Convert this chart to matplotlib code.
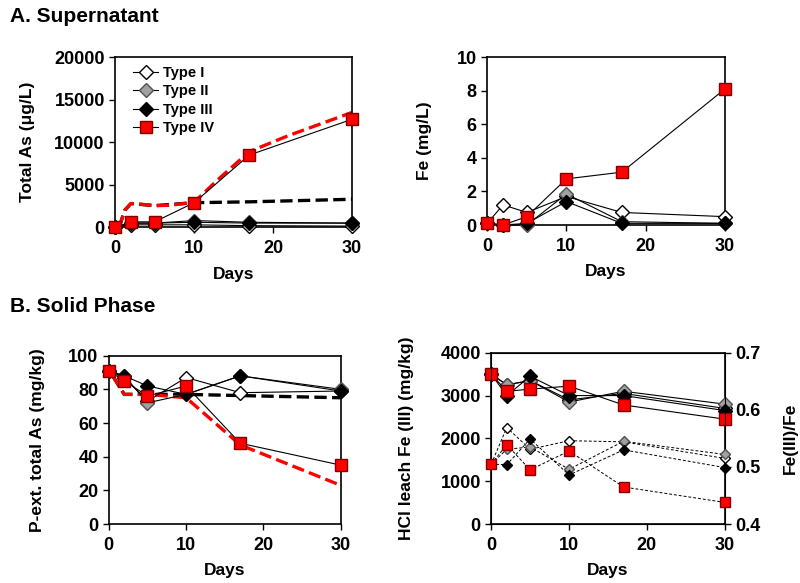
import matplotlib.pyplot as plt

plt.rcParams['font.family'] = ['Liberation Sans', 'DejaVu Sans']
plt.rcParams['font.weight'] = 'bold'
plt.rcParams['axes.labelweight'] = 'bold'

days = [0, 2, 5, 10, 17, 30]
types = ["Type I", "Type II", "Type III", "Type IV"]

# A. supernatant total As (ug/L)
as_sup = [
    [0, 300, 300, 300, 200, 150],
    [0, 500, 500, 800, 600, 500],
    [0, 500, 500, 600, 500, 500],
    [0, 650, 650, 2900, 8500, 12700],
]
as_fit_red_x = [0.5, 1.2, 2, 3, 5, 7, 10, 13, 17, 22, 30]
as_fit_red_y = [0, 2000, 2800, 2750, 2550, 2600, 2950, 5600, 8900, 10800, 13500]
as_fit_blk_x = [0.5, 1.2, 2, 5, 10, 17, 30]
as_fit_blk_y = [0, 2000, 2800, 2550, 2900, 3000, 3300]

# A. supernatant Fe (mg/L)
fe_sup = [
    [0.1, 1.2, 0.75, 1.7, 0.75, 0.5],
    [0.1, 0.0, 0.0, 1.85, 0.2, 0.1],
    [0.1, 0.0, 0.1, 1.4, 0.1, 0.1],
    [0.1, 0.0, 0.5, 2.75, 3.15, 8.1],
]

# B. solid phase P-extractable As (mg/kg)
as_sol = [
    [91, 87, 73, 87, 78, 79],
    [91, 88, 72, 77, 88, 80],
    [91, 88, 82, 77, 88, 79],
    [91, 85, 76, 82, 48, 35],
]
as_sol_red_x = [0.5, 2, 5, 10, 17, 30]
as_sol_red_y = [88, 77, 77, 75, 47, 23]
as_sol_blk_x = [0.5, 2, 10, 30]
as_sol_blk_y = [88, 77, 77, 75]

# B. HCl leach Fe(III) (mg/kg) and Fe(III)/Fe ratio
fe3 = [
    [3500, 3250, 3350, 2900, 3050, 2700],
    [3500, 3250, 3350, 2850, 3100, 2800],
    [3500, 3000, 3450, 3000, 3000, 2650],
    [3500, 3100, 3150, 3220, 2780, 2450],
]
fe_ratio = [
    [0.505, 0.569, 0.531, 0.546, 0.544, 0.515],
    [0.505, 0.531, 0.535, 0.496, 0.545, 0.522],
    [0.505, 0.504, 0.549, 0.486, 0.530, 0.499],
    [0.505, 0.539, 0.495, 0.528, 0.465, 0.438],
]

styles = [
    dict(marker="D", mfc="white", mec="black", ms=7.5),
    dict(marker="D", mfc="#a0a0a0", mec="#505050", ms=7.5),
    dict(marker="D", mfc="black", mec="black", ms=7.5),
    dict(marker="s", mfc="#ff0000", mec="#800000", ms=9),
]

TICK = 13
LAB = 12.5


def style_axis(ax, xlabel, ylabel, ypad):
    ax.set_xlim(0, 30)
    ax.set_xticks([0, 10, 20, 30])
    ax.tick_params(labelsize=TICK, width=1, length=4)
    ax.tick_params(axis="x", pad=5)
    for s in ax.spines.values():
        s.set_linewidth(1.2)
    ax.set_xlabel(xlabel, fontsize=LAB, labelpad=7)
    ax.set_ylabel(ylabel, fontsize=LAB, labelpad=ypad)


fig = plt.figure(figsize=(8, 5.83), dpi=100)

# A left
ax1 = fig.add_axes([0.144, 0.61, 0.296, 0.292])
for i in range(4):
    ax1.plot(days, as_sup[i], color="black", lw=0.8, label=types[i],
             zorder=3 + i, clip_on=False, **styles[i])
ax1.plot(as_fit_blk_x, as_fit_blk_y, "--", color="black", lw=2.4, zorder=2)
ax1.plot(as_fit_red_x, as_fit_red_y, "--", color="#ff0000", lw=2.4, zorder=2.5)
ax1.set_ylim(0, 20000)
ax1.set_yticks([0, 5000, 10000, 15000, 20000])
style_axis(ax1, "Days", "Total As (\u03bcg/L)", 14)
leg = ax1.legend(loc="upper left", frameon=False, fontsize=10.5, handlelength=1.7,
                 handletextpad=0.3, borderaxespad=0.2, labelspacing=0.3,
                 bbox_to_anchor=(0.04, 1.0))
for t in leg.get_texts():
    t.set_fontweight("bold")

# A right
ax2 = fig.add_axes([0.609, 0.614, 0.297, 0.288])
for i in range(4):
    ax2.plot(days, fe_sup[i], color="black", lw=0.8, zorder=3 + i,
             clip_on=False, **styles[i])
ax2.set_ylim(0, 10)
ax2.set_yticks([0, 2, 4, 6, 8, 10])
style_axis(ax2, "Days", "Fe (mg/L)", 18)

# B left
ax3 = fig.add_axes([0.136, 0.101, 0.29, 0.289])
for i in range(4):
    ax3.plot(days, as_sol[i], color="black", lw=0.8, zorder=3 + i,
             clip_on=False, **styles[i])
ax3.plot(as_sol_blk_x, as_sol_blk_y, "--", color="black", lw=2.4, zorder=2)
ax3.plot(as_sol_red_x, as_sol_red_y, "--", color="#ff0000", lw=2.4, zorder=2.5)
ax3.set_ylim(0, 100)
ax3.set_yticks([0, 20, 40, 60, 80, 100])
style_axis(ax3, "Days", "P-ext. total As (mg/kg)", 17)

# B right
ax4 = fig.add_axes([0.614, 0.101, 0.292, 0.294])
ax5 = ax4.twinx()
for i in range(4):
    ax4.plot(days, fe3[i], color="black", lw=0.8, zorder=3 + i,
             clip_on=False, **styles[i])
    st = dict(styles[i])
    st["ms"] = st["ms"] - 2
    ax5.plot(days, fe_ratio[i], color="black", lw=0.7, ls=(0, (3, 2)),
             zorder=3 + i, clip_on=False, **st)
ax4.set_ylim(0, 4000)
ax4.set_yticks([0, 1000, 2000, 3000, 4000])
ax5.set_ylim(0.4, 0.7)
ax5.set_yticks([0.4, 0.5, 0.6, 0.7])
style_axis(ax4, "Days", "HCl leach Fe (III) (mg/kg)", 19)
ax5.tick_params(labelsize=TICK, width=1, length=4)
ax5.set_ylabel("Fe(III)/Fe", fontsize=LAB, labelpad=16)

fig.text(0.012, 0.962, "A. Supernatant", fontsize=15, fontweight="bold")
fig.text(0.012, 0.465, "B. Solid Phase", fontsize=15, fontweight="bold")

fig.savefig("out.png", dpi=100)
